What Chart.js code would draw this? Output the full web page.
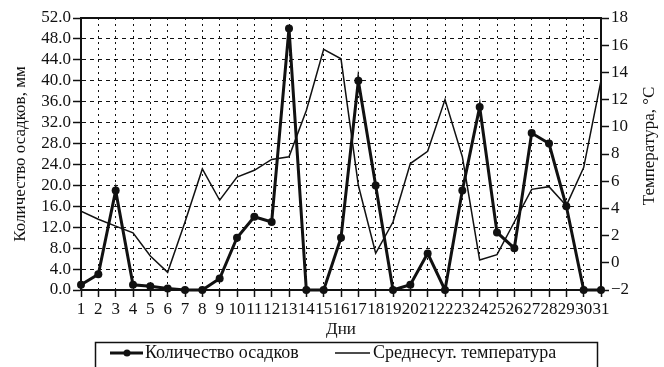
<!DOCTYPE html>
<html>
<head>
<meta charset="utf-8">
<script src="https://cdn.jsdelivr.net/npm/chart.js@4/dist/chart.umd.min.js"></script>
<style>
  html, body { margin: 0; padding: 0; background: #fff; }
</style>
</head>
<body>
<canvas id="chart" width="664" height="367"></canvas>
<script>
const days = [1,2,3,4,5,6,7,8,9,10,11,12,13,14,15,16,17,18,19,20,21,22,23,24,25,26,27,28,29,30,31]
const precipitation = [1,3,19,1,0.7,0.3,0,0,2.2,10,14,13,50,0,0,10,40,20,0,1,7,0,19,35,11,8,30,28,16,0,0]
const temperature = [3.8,3.2,2.7,2.2,0.5,-0.7,3.0,6.9,4.6,6.3,6.8,7.6,7.8,11.2,15.7,15.0,5.7,0.7,3.0,7.3,8.2,12.0,7.8,0.2,0.6,3.0,5.4,5.6,4.2,7.0,13.4]

const serif = "'Liberation Serif', 'DejaVu Serif', serif"
const ink = '#111'

// рамка сверху, подпись правой оси и легенда в рамке
const extras = {
  id: 'extras',
  afterDraw(chart) {
    const ctx = chart.ctx
    const area = chart.chartArea
    ctx.save()
    ctx.strokeStyle = ink
    ctx.lineWidth = 2
    ctx.beginPath()
    ctx.moveTo(area.left, area.top)
    ctx.lineTo(area.right, area.top)
    ctx.stroke()

    ctx.fillStyle = ink
    ctx.font = '17px ' + serif
    ctx.textAlign = 'center'
    ctx.textBaseline = 'middle'
    ctx.translate(650, 146)
    ctx.rotate(-Math.PI / 2)
    ctx.fillText('Температура, °C', 0, 0)
    ctx.restore()

    // легенда
    const ds = chart.data.datasets
    ctx.save()
    ctx.strokeStyle = ink
    ctx.lineWidth = 1.5
    ctx.strokeRect(95.5, 342.5, 502, 30)
    const y = 353
    ctx.lineWidth = 3
    ctx.beginPath()
    ctx.moveTo(110, y)
    ctx.lineTo(143, y)
    ctx.stroke()
    ctx.fillStyle = ink
    ctx.beginPath()
    ctx.arc(127, y, 3.5, 0, Math.PI * 2)
    ctx.fill()
    ctx.lineWidth = 1.5
    ctx.beginPath()
    ctx.moveTo(335, y)
    ctx.lineTo(370, y)
    ctx.stroke()
    ctx.font = '18px ' + serif
    ctx.textAlign = 'left'
    ctx.textBaseline = 'middle'
    ctx.fillText(ds[0].label, 145, y)
    ctx.fillText(ds[1].label, 373, y)
    ctx.restore()
  }
}

const ctx = document.getElementById('chart').getContext('2d')
const chart = new Chart(ctx, {
  type: 'line',
  data: {
    datasets: [
      {
        label: 'Количество осадков',
        data: days.map((d, i) => ({x: d, y: precipitation[i]})),
        yAxisID: 'y',
        borderColor: ink,
        backgroundColor: ink,
        borderWidth: 3,
        pointRadius: 4,
        pointBackgroundColor: ink,
        pointBorderWidth: 0,
        tension: 0,
        clip: false
      },
      {
        label: 'Среднесут. температура',
        data: days.map((d, i) => ({x: d, y: temperature[i]})),
        yAxisID: 'y1',
        borderColor: ink,
        borderWidth: 1.5,
        pointRadius: 0,
        tension: 0
      }
    ]
  },
  options: {
    responsive: false,
    animation: false,
    layout: { padding: { top: 18, left: 0, right: 0, bottom: 0 } },
    plugins: {
      legend: { display: false },
      tooltip: { enabled: false }
    },
    scales: {
      x: {
        type: 'linear',
        min: 1,
        max: 31,
        afterFit: s => { s.height = 77 },
        ticks: {
          stepSize: 1,
          autoSkip: false,
          maxRotation: 0,
          color: ink,
          padding: 2,
          font: { family: serif, size: 17 }
        },
        grid: { color: ink, lineWidth: 1, tickLength: 7, tickColor: ink, tickWidth: 1.5 },
        border: { color: ink, width: 2, dash: [2, 4] },
        title: {
          display: true,
          text: 'Дни',
          color: ink,
          font: { family: serif, size: 17 },
          padding: { top: 0, bottom: 27 }
        }
      },
      y: {
        position: 'left',
        min: 0,
        max: 52,
        afterFit: s => { s.width = 81 },
        ticks: {
          stepSize: 4,
          autoSkip: false,
          color: ink,
          padding: 2,
          font: { family: serif, size: 17 },
          callback: v => v.toFixed(1)
        },
        grid: { color: ink, lineWidth: 1, tickLength: 8, tickColor: ink, tickWidth: 1.5 },
        border: { color: ink, width: 2, dash: [4, 4] },
        title: {
          display: true,
          text: 'Количество осадков, мм',
          color: ink,
          font: { family: serif, size: 17 },
          padding: { top: 10, bottom: 0 }
        }
      },
      y1: {
        position: 'right',
        min: -2,
        max: 18,
        afterFit: s => { s.width = 63 },
        ticks: {
          stepSize: 2,
          autoSkip: false,
          color: ink,
          padding: 2,
          font: { family: serif, size: 17 },
          callback: v => v < 0 ? '\u2212' + Math.abs(v) : String(v)
        },
        grid: { drawOnChartArea: false, tickLength: 8, tickColor: ink, tickWidth: 1.5 },
        border: { color: ink, width: 2 }
      }
    }
  },
  plugins: [extras]
})
</script>
</body>
</html>
